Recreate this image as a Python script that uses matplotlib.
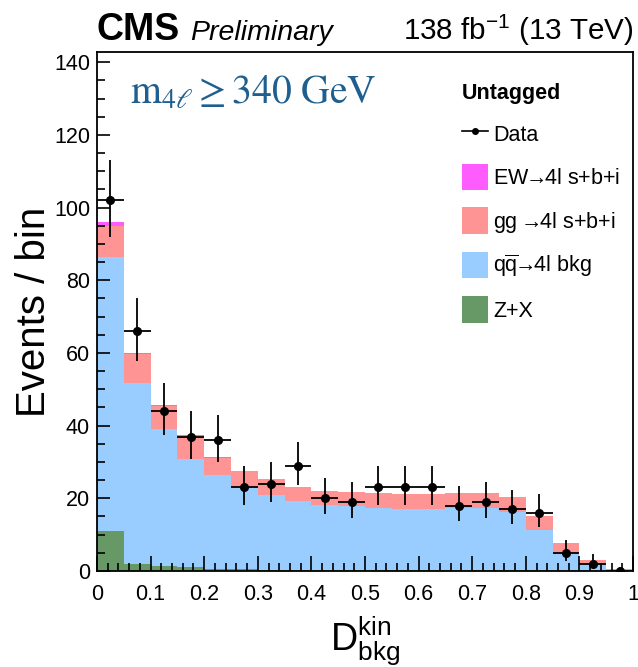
import numpy as np
import matplotlib
matplotlib.use("Agg")
import matplotlib.pyplot as plt
from matplotlib.patches import Patch
from matplotlib.lines import Line2D
from matplotlib.ticker import MultipleLocator

plt.rcParams['font.family'] = ['Liberation Sans', 'DejaVu Sans']
plt.rcParams['mathtext.fontset'] = 'custom'
plt.rcParams['mathtext.rm'] = 'Liberation Sans'
plt.rcParams['mathtext.it'] = 'Liberation Sans:italic'
plt.rcParams['mathtext.bf'] = 'Liberation Sans:bold'

# bin edges of D_bkg^kin
edges = np.linspace(0, 1, 21)

# stacked expectations, per bin
zx = [11.0, 2.0, 1.5, 1.0, 0.6, 0.5, 0.4, 0.4, 0.3, 0.3, 0.3, 0.3, 0.3, 0.3, 0.3, 0.3, 0.2, 0.1, 0.05, 0.0]
qqzz = [75.4, 49.7, 37.5, 29.8, 25.8, 22.2, 20.5, 18.9, 17.9, 17.6, 16.9, 16.7, 16.7, 16.9, 17.1, 16.0, 11.1, 4.8, 1.75, 0.3]
ggzz = [8.6, 7.9, 6.4, 6.3, 4.8, 4.8, 4.3, 3.8, 3.8, 3.7, 4.2, 4.2, 4.2, 4.2, 4.1, 4.1, 3.8, 2.7, 1.1, 0.2]
ewzz = [1.1, 0.4, 0.3, 0.2, 0.15, 0.1, 0.1, 0.05, 0.05, 0.05, 0.05, 0.05, 0.05, 0.05, 0.05, 0.05, 0.05, 0.02, 0.02, 0.0]

# observed data
data = [102, 66, 44, 37, 36, 23, 24, 29, 20, 19, 23, 23, 23, 18, 19, 17, 16, 5, 2, 0]
err_lo = [10.1, 8.1, 6.6, 6.1, 6.0, 4.8, 4.9, 5.4, 4.4, 4.3, 4.8, 4.8, 4.8, 4.2, 4.3, 4.1, 4.0, 2.2, 1.3, 0]
err_hi = [11.1, 9.2, 7.7, 7.1, 7.0, 5.9, 6.0, 6.5, 5.5, 5.4, 5.9, 5.9, 5.9, 5.3, 5.4, 5.2, 5.1, 3.4, 2.6, 0]

components = [
    ('Z+X', zx, '#669966'),
    (r'q$\overline{\mathrm{q}}\!\!\rightarrow\!\!$4l bkg', qqzz, '#99ccff'),
    (r'gg $\!\!\rightarrow\!\!$4l s+b+i', ggzz, '#ff9494'),
    (r'EW$\!\!\rightarrow\!\!$4l s+b+i', ewzz, '#ff5cff'),
]

fig = plt.figure(figsize=(6.38, 6.67), dpi=100)
ax = fig.add_axes([97/638, 1 - 571/667, 536/638, 519/667])

width = np.diff(edges)
bottom = np.zeros(len(width))
for name, vals, col in components:
    ax.bar(edges[:-1], vals, width=width, align='edge', bottom=bottom,
           color=col, linewidth=0)
    bottom = bottom + np.array(vals)

centers = 0.5 * (edges[1:] + edges[:-1])
ax.errorbar(centers, data, xerr=width / 2, yerr=[err_lo, err_hi], fmt='o',
            color='black', ms=5.5, elinewidth=1.3, capsize=0, zorder=5)

ax.set_xlim(0, 1)
ax.set_ylim(0, 142.8)
ax.xaxis.set_major_locator(MultipleLocator(0.1))
ax.xaxis.set_minor_locator(MultipleLocator(0.02))
ax.yaxis.set_major_locator(MultipleLocator(20))
ax.yaxis.set_minor_locator(MultipleLocator(5))
ax.set_xticks(np.arange(0, 1.01, 0.1))
ax.set_xticklabels(['0', '0.1', '0.2', '0.3', '0.4', '0.5', '0.6', '0.7', '0.8', '0.9', '1'])
ax.tick_params(axis='x', which='major', direction='in', length=11, width=1.2, labelsize=15.5, pad=9)
ax.tick_params(axis='x', which='minor', direction='in', length=5.5, width=1.2)
ax.tick_params(axis='y', which='major', direction='in', length=9, width=1.2, labelsize=15.5, pad=5)
ax.tick_params(axis='y', which='minor', direction='in', length=5.5, width=1.2)
for s in ax.spines.values():
    s.set_linewidth(1.3)

ax.set_ylabel('Events / bin', fontsize=29)
ax.yaxis.set_label_coords(-0.083, 0.5)
ax.set_xlabel(r'D$^{\mathrm{kin}}_{\mathrm{bkg}}$', fontsize=27)
ax.xaxis.set_label_coords(0.5, -0.085)

fig.text(96/638, 1 - 40/667, 'CMS', fontsize=27, fontweight='bold', va='baseline', ha='left')
fig.text(190/638, 1 - 40/667, 'Preliminary', fontsize=20.5, fontstyle='italic', va='baseline', ha='left')
fig.text(634/638, 1 - 40/667, r'138 fb$^{\mathregular{-1}}$ (13 TeV)', fontsize=21.3, va='baseline', ha='right')

ax.text(0.062, 0.923, r'$\mathrm{m}_{4\ell} \geq \mathrm{340\ GeV}$', transform=ax.transAxes,
        fontsize=28.5, color='#1f5f8f', math_fontfamily='stix', va='center', ha='left')

handles = [Line2D([], [], color='black', marker='o', ms=4, lw=1.2)]
labels = ['Data']
for name, vals, col in components[::-1]:
    handles.append(Patch(facecolor=col, edgecolor='none'))
    labels.append(name)
leg = ax.legend(handles, labels, loc='upper left', bbox_to_anchor=(451/638, 1 - 72/667),
                bbox_transform=fig.transFigure, frameon=False, fontsize=15.5,
                title='Untagged', title_fontproperties={'weight': 'bold', 'size': 15.5},
                handlelength=1.2, handleheight=1.5, labelspacing=0.8, handletextpad=0.25,
                alignment='left', borderpad=0)
leg._legend_box.sep = 12

fig.savefig('out.png', dpi=100)
